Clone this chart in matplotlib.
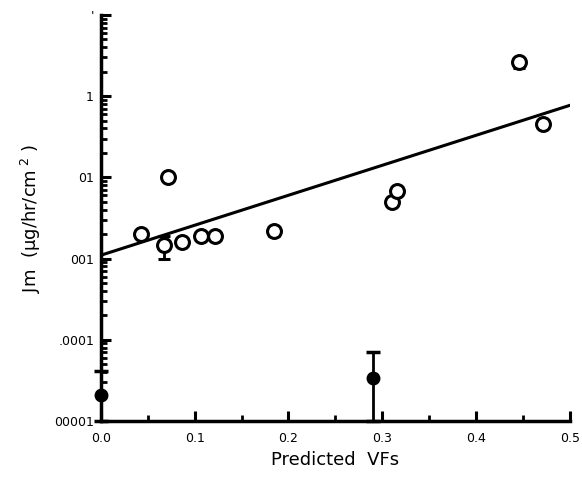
import matplotlib
matplotlib.use("Agg")
import matplotlib.pyplot as plt
import numpy as np
from matplotlib.ticker import FixedLocator, LogLocator, NullFormatter

# Open circles (measured)
open_x = [0.043, 0.067, 0.072, 0.086, 0.107, 0.122, 0.185, 0.310, 0.316, 0.446, 0.471]
open_y = [0.0020, 0.00145, 0.0100, 0.0016, 0.0019, 0.0019, 0.0022, 0.0050, 0.0068, 0.26, 0.046]
open_lo = [0.0, 0.00045, 0.0, 0.0, 0.0, 0.0, 0.0003, 0.0, 0.0, 0.035, 0.0]
open_hi = [0.0, 0.00045, 0.0, 0.0, 0.0, 0.0, 0.0, 0.0, 0.0, 0.0, 0.0]

# Filled circles
fill_x = [0.0, 0.29]
fill_y = [2.1e-5, 3.4e-5]
fill_lo = [1.1e-5, 2.4e-5]
fill_hi = [2.0e-5, 3.7e-5]

# Regression line
fit_x = [0.0, 0.5]
fit_y = [0.0011, 0.077]

xticks = [0.0, 0.1, 0.2, 0.3, 0.4, 0.5]
xtick_labels = ["0.0", "0.1", "0.2", "0.3", "0.4", "0.5"]
yticks = [1.0, 0.1, 0.01, 0.001, 0.0001, 0.00001]
ytick_labels = ["'", "1", "01", "001", ".0001", "00001"]

fig = plt.figure(figsize=(5.82, 4.91), dpi=100)
ax = fig.add_axes([0.1735, 0.1426, 0.8055, 0.827])

ax.plot(fit_x, fit_y, color="black", lw=2.2, zorder=2)

ax.errorbar(open_x, open_y, yerr=[open_lo, open_hi], fmt="o", ms=10,
            mfc="white", mec="black", mew=2.2, ecolor="black", elinewidth=2,
            capsize=4, capthick=2.5, zorder=3)
ax.errorbar(fill_x, fill_y, yerr=[fill_lo, fill_hi], fmt="o", ms=9,
            mfc="black", mec="black", ecolor="black", elinewidth=2,
            capsize=5, capthick=2.5, zorder=3, clip_on=False)

ax.set_yscale("log")
ax.set_xlim(0, 0.5)
ax.set_ylim(1e-5, 1.0)

ax.xaxis.set_major_locator(FixedLocator(xticks))
ax.set_xticklabels(xtick_labels)
ax.xaxis.set_minor_locator(FixedLocator([0.05, 0.15, 0.25, 0.35, 0.45]))
ax.yaxis.set_major_locator(FixedLocator(yticks))
ax.set_yticklabels(ytick_labels)
ax.yaxis.set_minor_locator(LogLocator(base=10, subs=np.arange(2, 10)))
ax.yaxis.set_minor_formatter(NullFormatter())

ax.tick_params(axis="both", which="major", direction="in", length=7, width=2.2,
               labelsize=9, colors="black")
ax.tick_params(axis="both", which="minor", direction="in", length=4, width=2)
ax.tick_params(axis="x", pad=8)
ax.tick_params(axis="y", pad=5)

for s in ["top", "right"]:
    ax.spines[s].set_visible(False)
for s in ["left", "bottom"]:
    ax.spines[s].set_linewidth(2.5)

ax.set_xlabel("Predicted  VFs", fontsize=13, labelpad=4)
ax.set_ylabel("Jm  (µg/hr/cm$^{\\ 2}$ )", fontsize=13, labelpad=8)

fig.savefig("out.png", dpi=100)
